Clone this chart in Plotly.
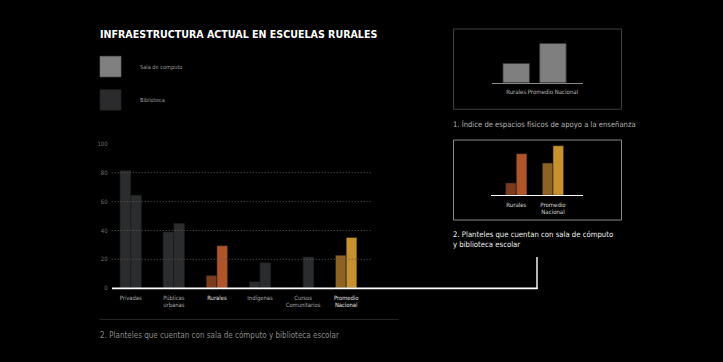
import plotly.graph_objects as go

# ---- data ----
categories = ["Privadas", "Públicas<br>urbanas", "Rurales", "Indígenas",
              "Cursos<br>Comunitarios", "Promedio<br>Nacional"]
sala_computo = [81.5, 38.9, 8.7, 4.4, 0, 22.8]
biblioteca = [64.4, 44.8, 29.4, 17.5, 21.6, 35.1]
y_ticks = [0, 20, 40, 60, 80, 100]
grid_vals = [20, 40, 60, 80]

indice_cats = ["Rurales", "Promedio Nacional"]
indice_vals = [0.49, 1.0]

inset_cats = ["Rurales", "Promedio<br>Nacional"]
inset_idx = [2, 5]

# ---- style ----
W, H = 723, 362
FONT = "DejaVu Sans Condensed, Liberation Sans Narrow, Arial Narrow, sans-serif"
GREY_BAR = "#2b2c2e"
sala_colors = [GREY_BAR, GREY_BAR, "#7a3b1f", GREY_BAR, GREY_BAR, "#8c6322"]
bib_colors = [GREY_BAR, GREY_BAR, "#b0552a", GREY_BAR, GREY_BAR, "#c8912f"]


def px(x):
    return x / W


def py(y):
    return 1 - y / H


fig = go.Figure()

xs = list(range(len(categories)))
bw = 0.248
fig.add_trace(go.Bar(x=xs, y=sala_computo, width=bw, offset=-bw,
                     marker=dict(color=sala_colors, line=dict(color="#1c1c1c", width=0.6)),
                     name="Sala de computo", showlegend=False, xaxis="x", yaxis="y"))
fig.add_trace(go.Bar(x=xs, y=biblioteca, width=bw, offset=0,
                     marker=dict(color=bib_colors, line=dict(color="#1c1c1c", width=0.6)),
                     name="Biblioteca", showlegend=False, xaxis="x", yaxis="y"))

# inset 1
fig.add_trace(go.Bar(x=[0, 1], y=indice_vals, width=0.72,
                     marker=dict(color="#7f7f7f", line=dict(color="#3a3a3a", width=0.8)),
                     showlegend=False, xaxis="x2", yaxis="y2"))

# inset 2
bw3 = 0.29
fig.add_trace(go.Bar(x=[0, 1], y=[sala_computo[i] for i in inset_idx], width=bw3, offset=-bw3,
                     marker=dict(color=[sala_colors[i] for i in inset_idx], line=dict(color="#1c1c1c", width=0.6)),
                     showlegend=False, xaxis="x3", yaxis="y3"))
fig.add_trace(go.Bar(x=[0, 1], y=[biblioteca[i] for i in inset_idx], width=bw3, offset=0,
                     marker=dict(color=[bib_colors[i] for i in inset_idx], line=dict(color="#1c1c1c", width=0.6)),
                     showlegend=False, xaxis="x3", yaxis="y3"))

bright = {2, 5}
main_ticktext = [
    f"<span style='color:{'#e6e6e6' if i in bright else '#a8a8a8'}'>{c}</span>"
    for i, c in enumerate(categories)
]

shapes = []
for g in grid_vals:
    shapes.append(dict(type="line", xref="paper", yref="y", x0=px(111.7), x1=px(372.7), y0=g, y1=g,
                       line=dict(color="#5a5a5a", width=1, dash="1px,2px")))
shapes.append(dict(type="line", xref="paper", yref="paper", x0=px(112), x1=px(537.5),
                   y0=py(290), y1=py(290), line=dict(color="#ffffff", width=1.6)))
shapes.append(dict(type="line", xref="paper", yref="paper", x0=px(537), x1=px(537),
                   y0=py(290.5), y1=py(258), line=dict(color="#ffffff", width=1.4)))
shapes.append(dict(type="rect", xref="paper", yref="paper", x0=px(100), x1=px(121),
                   y0=py(53.3), y1=py(74.3), fillcolor="#808080", line=dict(color="#6a6a6a", width=0.6)))
shapes.append(dict(type="rect", xref="paper", yref="paper", x0=px(100), x1=px(121),
                   y0=py(87.3), y1=py(108.3), fillcolor="#2b2b2d", line=dict(color="#222222", width=0.6)))
shapes.append(dict(type="line", xref="paper", yref="paper", x0=px(99.5), x1=px(398.5),
                   y0=py(321.7), y1=py(321.7), line=dict(color="#262626", width=1)))
shapes.append(dict(type="rect", xref="paper", yref="paper", x0=px(453.5), x1=px(621.5),
                   y0=py(25.5), y1=py(107.3), line=dict(color="#3e3e3e", width=1)))
shapes.append(dict(type="rect", xref="paper", yref="paper", x0=px(453.5), x1=px(621.5),
                   y0=py(138.7), y1=py(220.3), line=dict(color="#8a8a8a", width=1)))


def ann(text, x, y, size, color, **kw):
    return dict(text=text, x=px(x), y=py(y), xref="paper", yref="paper",
                xanchor="left", yanchor="middle", showarrow=False,
                font=dict(size=size, color=color, family=FONT), **kw)


annotations = [
    ann("<b>INFRAESTRUCTURA ACTUAL EN ESCUELAS RURALES</b>", 98, 31, 10.6, "#ffffff"),
    ann("Sala de computo", 138, 65, 5.6, "#9a9a9a"),
    ann("Biblioteca", 138, 97.5, 5.6, "#9a9a9a"),
    ann("2. Planteles que cuentan con sala de cómputo y biblioteca escolar", 98, 338, 8, "#8a8a8a"),
    ann("1. Índice de espacios físicos de apoyo a la enseñanza", 451, 122, 7.6, "#b0b0b0"),
    ann("2. Planteles que cuentan con sala de cómputo<br>y biblioteca escolar", 451, 240.5, 7.7,
        "#f0f0f0", align="left"),
]

fig.update_layout(
    width=W, height=H,
    margin=dict(l=0, r=0, t=0, b=0),
    paper_bgcolor="#000000", plot_bgcolor="rgba(0,0,0,0)",
    barmode="overlay",
    showlegend=False,
    font=dict(family=FONT, color="#aaaaaa"),
    shapes=shapes,
    annotations=annotations,
    xaxis=dict(domain=[px(111.7), px(372.7)], range=[-0.441, 5.615],
               tickmode="array", tickvals=xs, ticktext=main_ticktext, tickangle=0,
               showgrid=False, zeroline=False, showline=False, ticks="",
               tickfont=dict(size=5.8, family=FONT), ticklabelstandoff=5, fixedrange=True),
    yaxis=dict(domain=[py(289.7), py(142.7)], range=[0, 100],
               tickmode="array", tickvals=y_ticks,
               showgrid=False, zeroline=False, showline=False, ticks="",
               tickfont=dict(size=6, color="#6e6e6e", family=FONT), ticklabelstandoff=3),
    xaxis2=dict(domain=[px(491.7), px(583.3)], range=[-0.668, 1.828], anchor="y2",
                tickmode="array", tickvals=[0, 1], ticktext=indice_cats, tickangle=0,
                showgrid=False, zeroline=False, showline=True, linecolor="#8a8a8a", linewidth=1,
                ticks="", tickfont=dict(size=6, color="#b8b8b8", family=FONT), ticklabelstandoff=3),
    yaxis2=dict(domain=[py(80.3), py(32.3)], range=[0, 1.2], anchor="x2", visible=False),
    xaxis3=dict(domain=[px(491), px(583.3)], range=[-0.689, 1.826], anchor="y3",
                tickmode="array", tickvals=[0, 1], ticktext=inset_cats, tickangle=0,
                showgrid=False, zeroline=False, showline=True, linecolor="#ffffff", linewidth=1.4,
                ticks="", tickfont=dict(size=6, color="#dcdcdc", family=FONT), ticklabelstandoff=3),
    yaxis3=dict(domain=[py(195), py(140.3)], range=[0, 38], anchor="x3", visible=False),
)

fig.write_html("out.html", config={"displayModeBar": False},
               post_script="document.body.style.margin='0';document.body.style.background='#000';")
